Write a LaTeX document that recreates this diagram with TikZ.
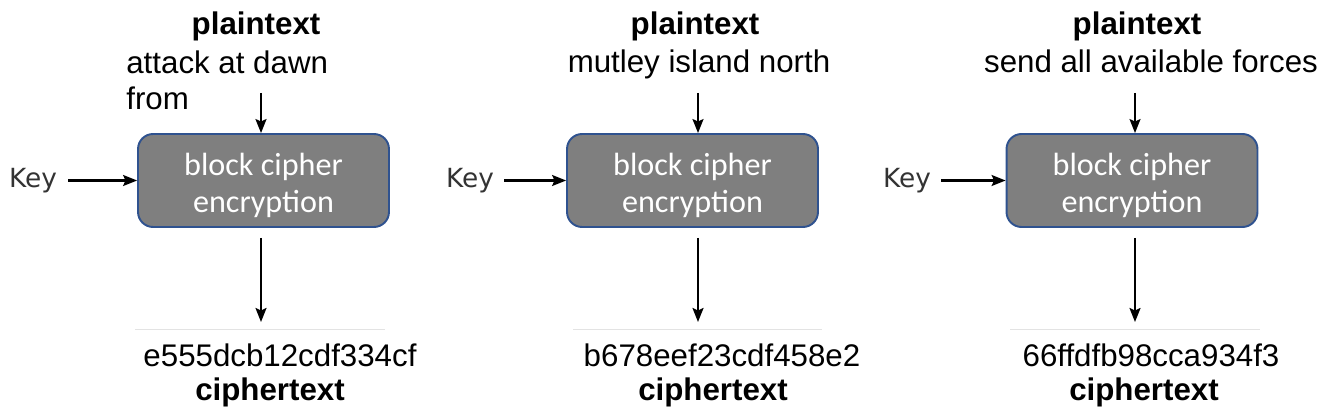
\documentclass[tikz,border=0pt]{standalone}
\usepackage{fontspec}
\setmainfont{Liberation Sans}
\newfontfamily\boxfont{Carlito}
\newfontfamily\keyfont{DejaVu Sans}
\usetikzlibrary{arrows.meta,positioning}

\definecolor{boxgray}{HTML}{7F7F7F}
\definecolor{boxblue}{HTML}{2F528F}
\definecolor{rulegray}{HTML}{E3E3E3}
\definecolor{keygray}{HTML}{333333}

\tikzset{
  cipherbox/.style={draw=boxblue, fill=boxgray, line width=1.1pt,
    rounded corners=0.3cm, minimum width=5.02cm, minimum height=1.86cm,
    text=white, align=center, text height=1.3cm, text depth=0pt,
    font=\boxfont\fontsize{18.3pt}{21.6pt}\selectfont},
  title/.style={anchor=base, inner sep=0pt,
    font=\bfseries\fontsize{17.8pt}{21pt}\selectfont},
  msg/.style={anchor=base, inner sep=0pt,
    font=\fontsize{17.8pt}{21pt}\selectfont},
  keytxt/.style={anchor=base, inner sep=0pt, text=keygray,
    font=\keyfont\fontsize{15pt}{18pt}\selectfont},
  arr/.style={line width=1.15pt, -{Stealth[length=0.28cm, width=0.22cm, inset=0.05cm]}},
  rule/.style={draw=rulegray, line width=0.5pt}
}

\begin{document}
\begin{tikzpicture}[x=0.02cm, y=-0.02cm]
  \useasboundingbox (0,0) rectangle (1325,418);

  % first message
  \node[title] (plain1) at (256,35) {plaintext};
  \node[msg, anchor=base west, align=left] (msg1) at (126,110) {attack at dawn\\from};
  \node[cipherbox] (box1) at (263.5,180.5) {block cipher\\encryption};
  \node[keytxt] (key1) at (33,188) {Key};
  \coordinate (in1) at (261,93);
  \coordinate (out1) at (261,322);
  \draw[arr] (in1) -- (in1 |- box1.north);
  \draw[arr, shorten <=0.2cm] (box1.south -| out1) -- (out1);
  \draw[arr, shorten <=0.22cm] (key1.east |- box1.west) -- (box1.west);
  \draw[rule] (135,329) -- (385,329);
  \node[msg] (hex1) at (280,367) {e555dcb12cdf334cf};
  \node[title] (cipher1) at (270,400) {ciphertext};

  % second message
  \node[title] (plain2) at (695,35) {plaintext};
  \node[msg] (msg2) at (699,73) {mutley island north};
  \node[cipherbox] (box2) at (692.5,180.5) {block cipher\\encryption};
  \node[keytxt] (key2) at (470,188) {Key};
  \coordinate (in2) at (698,93);
  \coordinate (out2) at (698,322);
  \draw[arr] (in2) -- (in2 |- box2.north);
  \draw[arr, shorten <=0.2cm] (box2.south -| out2) -- (out2);
  \draw[arr, shorten <=0.2cm] (key2.east |- box2.west) -- (box2.west);
  \draw[rule] (573,329) -- (822,329);
  \node[msg] (hex2) at (722,367) {b678eef23cdf458e2};
  \node[title] (cipher2) at (713,400) {ciphertext};

  % third message
  \node[title] (plain3) at (1137,35) {plaintext};
  \node[msg] (msg3) at (1151,73) {send all available forces};
  \node[cipherbox] (box3) at (1132,180.5) {block cipher\\encryption};
  \node[keytxt] (key3) at (907,188) {Key};
  \coordinate (in3) at (1135,93);
  \coordinate (out3) at (1135,322);
  \draw[arr] (in3) -- (in3 |- box3.north);
  \draw[arr, shorten <=0.2cm] (box3.south -| out3) -- (out3);
  \draw[arr, shorten <=0.2cm] (key3.east |- box3.west) -- (box3.west);
  \draw[rule] (1010,329) -- (1260,329);
  \node[msg] (hex3) at (1151,367) {66ffdfb98cca934f3};
  \node[title] (cipher3) at (1144,400) {ciphertext};
\end{tikzpicture}
\end{document}
